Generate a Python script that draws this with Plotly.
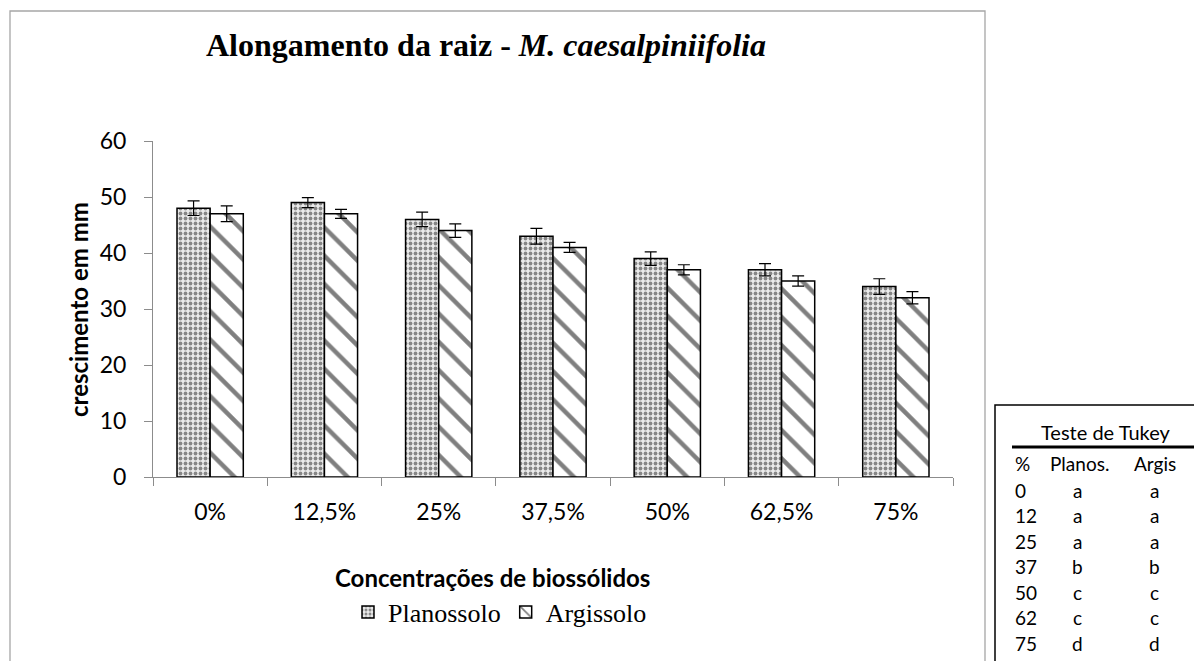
import plotly.graph_objects as go

categories = ["0%", "12,5%", "25%", "37,5%", "50%", "62,5%", "75%"]
planossolo = [48, 49, 46, 43, 39, 37, 34]
planossolo_err = [1.3, 0.9, 1.3, 1.4, 1.2, 1.1, 1.4]
argissolo = [47, 47, 44, 41, 37, 35, 32]
argissolo_err = [1.4, 0.8, 1.2, 0.9, 0.9, 0.9, 1.1]

tukey_pct = ["0", "12", "25", "37", "50", "62", "75"]
tukey_plan = ["a", "a", "a", "b", "c", "c", "d"]
tukey_arg = ["a", "a", "a", "b", "c", "c", "d"]

W, H = 1202, 661
OFF = 8  # page body margin
L, T = 153 - OFF, 141 - OFF
PW, PH = 800, 336
R, B = W - L - PW, H - T - PH


def px(x):
    return (x - OFF - L) / PW


def py(y):
    return (T + PH - (y - OFF)) / PH


SANS = "Lato"
SERIF = "Liberation Serif"

fig = go.Figure()
fig.add_trace(go.Bar(
    name="Planossolo", x=categories, y=planossolo,
    error_y=dict(type="data", array=planossolo_err, color="black", thickness=1.2, width=6),
    marker=dict(color="#ebebeb", line=dict(color="black", width=1.5),
                pattern=dict(shape=".", fgcolor="#222222", bgcolor="#ebebeb", size=5, solidity=0.45)),
))
fig.add_trace(go.Bar(
    name="Argissolo", x=categories, y=argissolo,
    error_y=dict(type="data", array=argissolo_err, color="black", thickness=1.2, width=6),
    marker=dict(color="white", line=dict(color="black", width=1.5),
                pattern=dict(shape="\\", fgcolor="black", bgcolor="white", size=20, solidity=0.22)),
))

fig.update_layout(
    width=W, height=H,
    margin=dict(l=L, r=R, t=T, b=B),
    paper_bgcolor="white", plot_bgcolor="white",
    barmode="group", bargap=0.42, bargroupgap=0,
    showlegend=True,
    legend=dict(orientation="h", x=px(500), xanchor="center", y=py(612), yanchor="middle",
                font=dict(family=SERIF, size=26, color="black"), itemwidth=30,
                bgcolor="rgba(0,0,0,0)"),
    font=dict(family=SANS, color="black"),
)
fig.update_xaxes(
    type="category", showline=True, linecolor="#8c8c8c", linewidth=1,
    ticks="outside", tickson="boundaries", ticklen=8, tickcolor="#8c8c8c",
    tickfont=dict(family=SANS, size=23, color="black"), ticklabelstandoff=14,
    showgrid=False, zeroline=False,
)
fig.update_yaxes(
    range=[0, 60], dtick=10, showline=True, linecolor="#8c8c8c", linewidth=1,
    ticks="outside", ticklen=8, tickcolor="#8c8c8c",
    tickfont=dict(family=SANS, size=23, color="black"), ticklabelstandoff=13,
    showgrid=False, zeroline=False,
)

annotations = [
    dict(text="<b>Alongamento da raiz - <i>M. caesalpiniifolia</i></b>", x=px(486), y=py(45),
         font=dict(family=SERIF, size=32, color="black")),
    dict(text="<b>crescimento em mm</b>", x=px(78), y=py(310), textangle=-90,
         font=dict(family=SANS, size=24, color="black")),
    dict(text="<b>Concentrações de biossólidos</b>", x=px(492), y=py(577),
         font=dict(family=SANS, size=24, color="black")),
    dict(text="Teste de Tukey", x=px(1105), y=py(432),
         font=dict(family=SANS, size=20, color="black")),
    dict(text="%", x=px(1013), y=py(463), xanchor="left",
         font=dict(family=SANS, size=19, color="black")),
    dict(text="Planos.", x=px(1079), y=py(463),
         font=dict(family=SANS, size=19, color="black")),
    dict(text="Argis", x=px(1155), y=py(463),
         font=dict(family=SANS, size=19, color="black")),
]
for i, (p, a, b) in enumerate(zip(tukey_pct, tukey_plan, tukey_arg)):
    yy = py(490 + i * 25.5)
    annotations.append(dict(text=p, x=px(1013), y=yy, xanchor="left",
                            font=dict(family=SANS, size=19, color="black")))
    annotations.append(dict(text=a, x=px(1077), y=yy,
                            font=dict(family=SANS, size=19, color="black")))
    annotations.append(dict(text=b, x=px(1154), y=yy,
                            font=dict(family=SANS, size=19, color="black")))
for an in annotations:
    an.update(xref="paper", yref="paper", showarrow=False, xanchor=an.get("xanchor", "center"),
              yanchor="middle")
fig.update_layout(annotations=annotations)

fig.update_layout(shapes=[
    dict(type="rect", xref="paper", yref="paper", x0=px(10), x1=px(985), y0=py(700), y1=py(11),
         line=dict(color="#a6a6a6", width=1.3), layer="below"),
    dict(type="rect", xref="paper", yref="paper", x0=px(995), x1=px(1260), y0=py(700), y1=py(405),
         line=dict(color="black", width=1.5)),
    dict(type="line", xref="paper", yref="paper", x0=px(1012), x1=px(1202), y0=py(447), y1=py(447),
         line=dict(color="black", width=3)),
])

fig.write_html("out.html")
